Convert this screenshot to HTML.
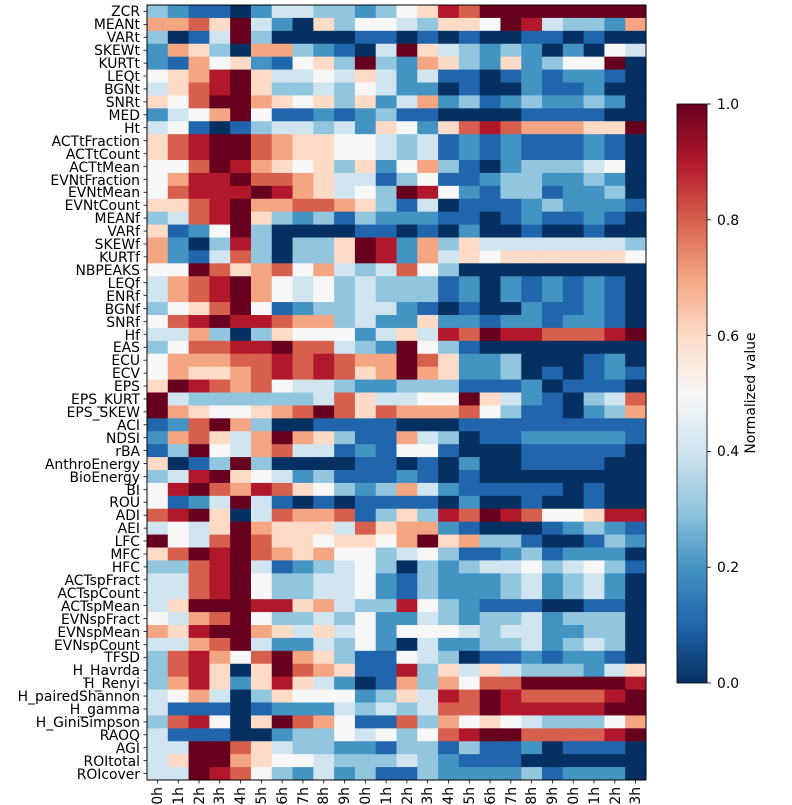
<!DOCTYPE html>
<html><head><meta charset="utf-8"><style>
html,body{margin:0;padding:0;background:#fff;}
svg{display:block;font-family:"DejaVu Sans","Liberation Sans",sans-serif;}
</style></head><body>
<svg id="s" width="792" height="805" viewBox="0 0 792 805" xmlns="http://www.w3.org/2000/svg">
<defs><linearGradient id="cb" x1="0" y1="1" x2="0" y2="0">
<stop offset="0" stop-color="#053061"/><stop offset="0.1" stop-color="#2166ac"/><stop offset="0.2" stop-color="#4393c3"/><stop offset="0.3" stop-color="#92c5de"/><stop offset="0.4" stop-color="#d1e5f0"/><stop offset="0.5" stop-color="#f7f7f7"/><stop offset="0.6" stop-color="#fddbc7"/><stop offset="0.7" stop-color="#f4a582"/><stop offset="0.8" stop-color="#d6604d"/><stop offset="0.9" stop-color="#b2182b"/><stop offset="1" stop-color="#67001f"/>
</linearGradient></defs>
<g id="cells"></g>
<rect x="147" y="5" width="499" height="775" fill="none" stroke="#000" stroke-width="1"/>
<g id="yt" font-size="13.9" text-anchor="end" fill="#000">
<text x="140" y="16">ZCR</text><text x="140" y="29">MEANt</text><text x="140" y="42">VARt</text><text x="140" y="55">SKEWt</text><text x="140" y="68">KURTt</text><text x="140" y="81">LEQt</text><text x="140" y="94">BGNt</text><text x="140" y="107">SNRt</text><text x="140" y="120">MED</text><text x="140" y="133">Ht</text><text x="140" y="146">ACTtFraction</text><text x="140" y="159">ACTtCount</text><text x="140" y="172">ACTtMean</text><text x="140" y="185">EVNtFraction</text><text x="140" y="197">EVNtMean</text><text x="140" y="210">EVNtCount</text><text x="140" y="223">MEANf</text><text x="140" y="236">VARf</text><text x="140" y="249">SKEWf</text><text x="140" y="262">KURTf</text><text x="140" y="275">NBPEAKS</text><text x="140" y="288">LEQf</text><text x="140" y="301">ENRf</text><text x="140" y="314">BGNf</text><text x="140" y="327">SNRf</text><text x="140" y="340">Hf</text><text x="140" y="352">EAS</text><text x="140" y="365">ECU</text><text x="140" y="378">ECV</text><text x="140" y="391">EPS</text><text x="140" y="404">EPS_KURT</text><text x="140" y="417">EPS_SKEW</text><text x="140" y="430">ACI</text><text x="140" y="443">NDSI</text><text x="140" y="456">rBA</text><text x="140" y="469">AnthroEnergy</text><text x="140" y="482">BioEnergy</text><text x="140" y="495">BI</text><text x="140" y="507">ROU</text><text x="140" y="520">ADI</text><text x="140" y="533">AEI</text><text x="140" y="546">LFC</text><text x="140" y="559">MFC</text><text x="140" y="572">HFC</text><text x="140" y="585">ACTspFract</text><text x="140" y="598">ACTspCount</text><text x="140" y="611">ACTspMean</text><text x="140" y="624">EVNspFract</text><text x="140" y="637">EVNspMean</text><text x="140" y="650">EVNspCount</text><text x="140" y="662">TFSD</text><text x="140" y="675">H_Havrda</text><text x="140" y="688">H_Renyi</text><text x="140" y="701">H_pairedShannon</text><text x="140" y="714">H_gamma</text><text x="140" y="727">H_GiniSimpson</text><text x="140" y="740">RAOQ</text><text x="140" y="753">AGI</text><text x="140" y="766">ROItotal</text><text x="140" y="779">ROIcover</text>
</g>
<g id="ticks" stroke="#000" stroke-width="0.8"></g>
<rect x="677" y="104" width="30" height="579" fill="url(#cb)" stroke="#000" stroke-width="0.8"/>
<g stroke="#000" stroke-width="0.8">
<line x1="707" y1="104" x2="711" y2="104"/><line x1="707" y1="219.8" x2="711" y2="219.8"/><line x1="707" y1="335.6" x2="711" y2="335.6"/><line x1="707" y1="451.4" x2="711" y2="451.4"/><line x1="707" y1="567.2" x2="711" y2="567.2"/><line x1="707" y1="683" x2="711" y2="683"/>
</g>
<g font-size="13.9" fill="#000">
<text x="717" y="109">1.0</text><text x="717" y="225">0.8</text><text x="717" y="341">0.6</text><text x="717" y="456">0.4</text><text x="717" y="572">0.2</text><text x="717" y="688">0.0</text>
</g>
<text font-size="13.9" text-anchor="middle" transform="translate(755,393) rotate(-90)">Normalized value</text>
<g font-size="13.9" text-anchor="end">
<text transform="translate(162,787) rotate(-90)">0h</text><text transform="translate(183,787) rotate(-90)">1h</text><text transform="translate(204,787) rotate(-90)">2h</text><text transform="translate(224,787) rotate(-90)">3h</text><text transform="translate(245,787) rotate(-90)">4h</text><text transform="translate(266,787) rotate(-90)">5h</text><text transform="translate(287,787) rotate(-90)">6h</text><text transform="translate(308,787) rotate(-90)">7h</text><text transform="translate(328,787) rotate(-90)">8h</text><text transform="translate(349,787) rotate(-90)">9h</text><text transform="translate(370,787) rotate(-90)">10h</text><text transform="translate(391,787) rotate(-90)">11h</text><text transform="translate(412,787) rotate(-90)">12h</text><text transform="translate(432,787) rotate(-90)">13h</text><text transform="translate(453,787) rotate(-90)">14h</text><text transform="translate(474,787) rotate(-90)">15h</text><text transform="translate(495,787) rotate(-90)">16h</text><text transform="translate(516,787) rotate(-90)">17h</text><text transform="translate(536,787) rotate(-90)">18h</text><text transform="translate(557,787) rotate(-90)">19h</text><text transform="translate(578,787) rotate(-90)">20h</text><text transform="translate(599,787) rotate(-90)">21h</text><text transform="translate(620,787) rotate(-90)">22h</text><text transform="translate(640,787) rotate(-90)">23h</text>
</g>
</svg>
<script>
var rows=[
"3211024433235698aaaaaaaa",
"7786a420635543665a943327",
"3014a3000011010100110100",
"276307732104a64323202054",
"2175621563a32763262355a0",
"5679a6445464241101212210",
"4689a6334354220100211200",
"658aa7656362472312322320",
"2457a5112123110000111100",
"45101344342652689877766a",
"689aa8766554341212111210",
"689aa8766554341212111210",
"558a97656362573102333450",
"5799a8876441351123322320",
"58999a976453a95213312230",
"6689a7788763140111232221",
"3489a6323132221101211210",
"6125a3000011010200100100",
"7203930336a9273644444443",
"7214830336a9274656666665",
"55a867857434853000000000",
"4789a7545343331202121210",
"4789a7545343331202121210",
"3568a5123344210100211210",
"589a99877342262212212210",
"4473036555246498a998889a",
"358899a88432a53100000000",
"577788989877a86223000120",
"576678989867a76223010121",
"6a9878544322333111201110",
"a43333334864455a64210348",
"a7655678a868777853110237",
"128a73001111000111111111",
"278647a76311743011222221",
"13a547844121551000111110",
"6013a3000011010200111100",
"349a65423111210100000000",
"59a879865323742111110100",
"5124a4101011110200100100",
"89a6048778136398a9855699",
"4546a7666486772100012321",
"a548a86656657a6733100132",
"68a9a8767553453112312220",
"3389a4123453032344534531",
"4489a5334452132223423420",
"4489a5334452132223423420",
"46aaa9967433953211100110",
"5478a5334352243233423330",
"769aa7646452555434422330",
"4478a4224352042233423430",
"389758a76311543011212210",
"389606a87611936464333246",
"379626964201737588aaaaa9",
"4574036555236498a988889a",
"4111012224343488a99999aa",
"389506a87511837565433357",
"4111002335453589aa88889a",
"44aa86433221331311201110",
"46aa76554333432111000000",
"44a985324231132222312220"
];
var cols=["#053061","#2166ac","#4393c3","#92c5de","#d1e5f0","#f7f7f7","#fddbc7","#f4a582","#d6604d","#b2182b","#67001f"];
var g=document.getElementById("cells"),out="";
var x0=147,w=499/24,y0=5,h=775/60;
for(var r=0;r<rows.length;r++){var s=rows[r];
for(var c=0;c<24;c++){var ch=s[c];var v=ch==="a"?10:parseInt(ch,10);if(isNaN(v))v=5;
var xa=x0+c*w,ya=y0+r*h;
out+='<rect x="'+xa.toFixed(2)+'" y="'+ya.toFixed(2)+'" width="'+(w+0.4).toFixed(2)+'" height="'+(h+0.4).toFixed(2)+'" fill="'+cols[v]+'"/>';}}
g.innerHTML=out;
var t="";
for(var r=0;r<60;r++){var y=y0+(r+0.5)*h;t+='<line x1="143.5" y1="'+y.toFixed(2)+'" x2="147" y2="'+y.toFixed(2)+'"/>';}
for(var c=0;c<24;c++){var x=x0+(c+0.5)*w;t+='<line x1="'+x.toFixed(2)+'" y1="780" x2="'+x.toFixed(2)+'" y2="783.5"/>';}
document.getElementById("ticks").innerHTML=t;
</script>
</body></html>
